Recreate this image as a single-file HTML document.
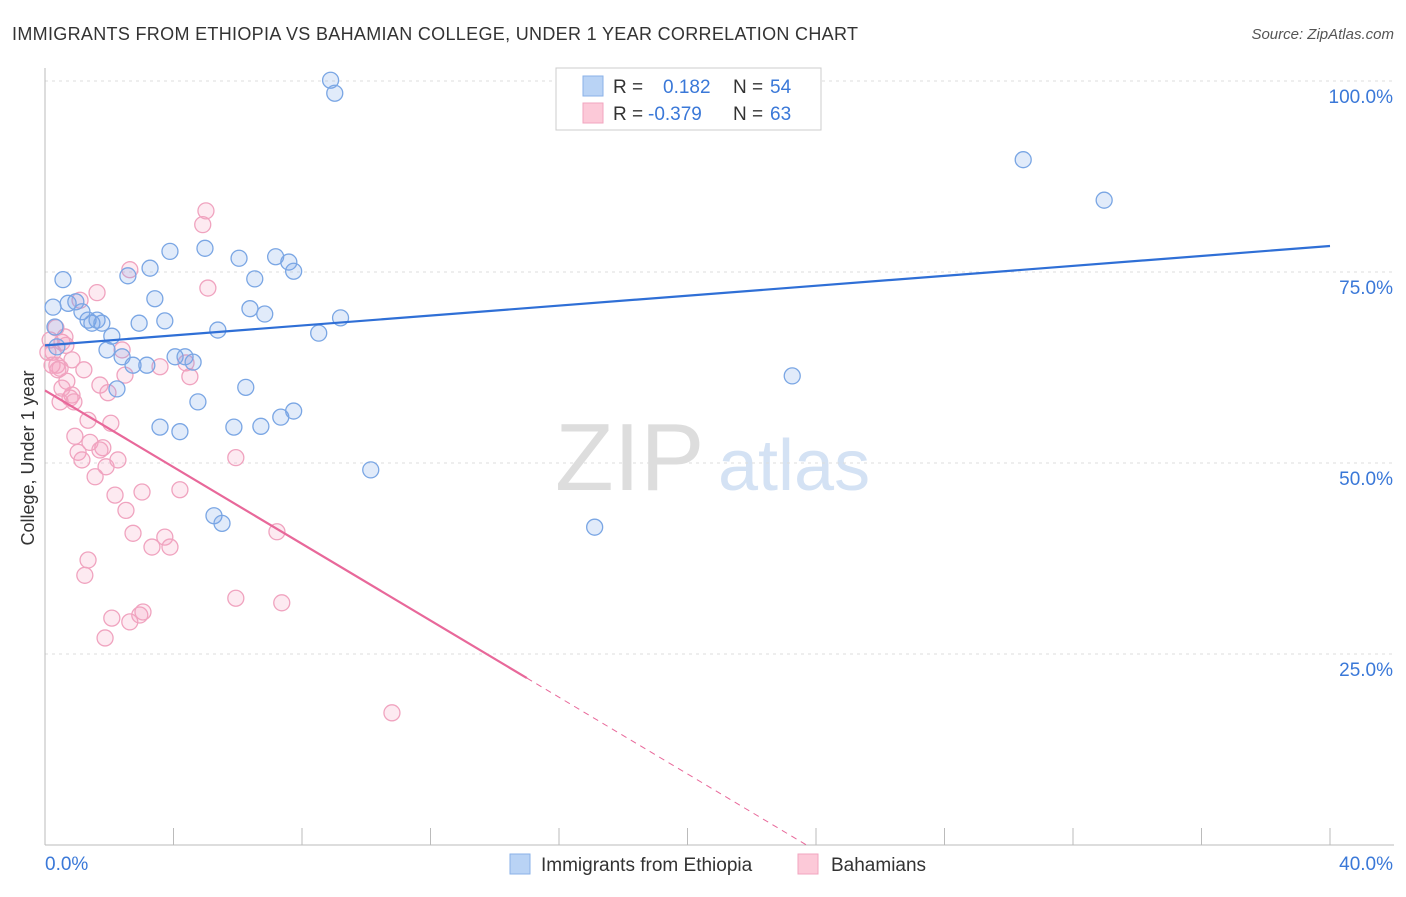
<!DOCTYPE html>
<html><head><meta charset="utf-8"><style>
body{margin:0;background:#fff;font-family:"Liberation Sans",sans-serif}
svg text{font-family:"Liberation Sans",sans-serif}
</style></head><body>
<svg id="c" width="1406" height="892">
<text x="12" y="40" font-size="18" fill="#333" textLength="846" lengthAdjust="spacing">IMMIGRANTS FROM ETHIOPIA VS BAHAMIAN COLLEGE, UNDER 1 YEAR CORRELATION CHART</text>
<text x="1394" y="39" font-size="15" fill="#555" font-style="italic" text-anchor="end">Source: ZipAtlas.com</text>
<text x="34" y="458" font-size="18" fill="#333" text-anchor="middle" transform="rotate(-90 34 458)">College, Under 1 year</text>
<text x="555" y="490" font-size="96" fill="#ddd" font-family="Liberation Serif">ZIP</text>
<text x="718" y="490" font-size="72" fill="#d4e2f4">atlas</text>
<g id="grid"></g><g id="pts"></g><g id="trend"></g>
<g>
<rect x="556" y="68" width="265" height="62" fill="#fff" stroke="#ccc"/>
<rect x="583" y="76" width="20" height="20" fill="#b9d3f5" stroke="#8ab2e8"/>
<rect x="583" y="103" width="20" height="20" fill="#fcc9d8" stroke="#f2a5bf"/>
<text x="613" y="93" font-size="19" fill="#333">R = </text><text x="663" y="93" font-size="19" fill="#3a78d8">0.182</text>
<text x="733" y="93" font-size="19" fill="#333">N = </text><text x="770" y="93" font-size="19" fill="#3a78d8">54</text>
<text x="613" y="120" font-size="19" fill="#333">R = </text><text x="648" y="120" font-size="19" fill="#3a78d8">-0.379</text>
<text x="733" y="120" font-size="19" fill="#333">N = </text><text x="770" y="120" font-size="19" fill="#3a78d8">63</text>
</g>
<g>
<rect x="510" y="854" width="20" height="20" fill="#b9d3f5" stroke="#8ab2e8"/>
<text x="541" y="871" font-size="19" fill="#333">Immigrants from Ethiopia</text>
<rect x="798" y="854" width="20" height="20" fill="#fcc9d8" stroke="#f2a5bf"/>
<text x="831" y="871" font-size="19" fill="#333">Bahamians</text>
</g>
</svg>
<script>
const blueX=[0.25,0.56,0.72,0.96,1.15,1.34,1.46,1.62,1.77,2.08,1.93,2.40,2.58,2.74,3.17,3.27,3.42,2.93,3.73,3.89,4.05,4.36,4.61,4.98,5.38,4.76,2.24,3.58,4.20,5.26,5.51,5.88,6.04,6.25,6.38,6.53,6.84,6.72,7.18,7.34,7.59,7.74,7.74,8.52,9.20,10.14,8.89,9.02,17.11,23.26,30.45,32.97,0.31,0.37];
const blueY=[70.4,74.0,70.9,71.1,69.8,68.7,68.3,68.7,68.3,66.6,64.8,63.9,74.5,62.8,62.8,75.5,71.5,68.3,68.6,77.7,63.9,63.9,63.2,78.1,67.4,58.0,59.7,54.7,54.1,43.1,42.1,54.7,76.8,59.9,70.2,74.1,69.5,54.8,77.0,56.0,76.3,75.1,56.8,67.0,69.0,49.1,100.1,98.4,41.6,61.4,89.7,84.4,67.8,65.2];
const pinkX=[0.16,0.25,0.37,0.47,0.53,0.62,0.68,0.78,0.84,0.90,0.47,1.09,1.21,1.34,0.93,1.03,1.15,1.40,1.56,1.62,1.71,1.80,1.90,1.96,2.05,2.18,2.27,2.40,2.49,2.52,2.64,2.74,2.95,3.02,3.33,3.58,3.73,3.89,4.20,4.39,4.51,4.91,5.01,5.07,5.94,5.94,7.22,7.37,10.80,1.34,1.24,1.87,2.08,2.64,0.34,0.09,0.22,0.65,0.84,0.40,0.53,1.71,3.05];
const pinkY=[66.1,64.5,62.8,62.4,65.8,66.5,60.7,58.5,58.9,58.0,58.0,71.3,62.2,55.6,53.5,51.4,50.4,52.7,48.2,72.3,60.2,52.0,49.5,59.2,55.2,45.8,50.4,64.8,61.5,43.8,75.3,40.8,30.1,46.2,39.0,62.6,40.3,39.0,46.5,63.1,61.3,81.2,83.0,72.9,50.7,32.3,41.0,31.7,17.3,37.3,35.3,27.1,29.7,29.2,67.7,64.5,62.8,65.4,63.5,62.2,59.8,51.7,30.5];
const blueTrend=[65.4,78.4];
const pinkTrend=[59.5,-2.51];
const pinkSolidEnd=15.0;
const yTicks=[25,50,75,100];
const yTickLabels=["25.0%","50.0%","75.0%","100.0%"];
const xTicks=[0,4,8,12,16,20,24,28,32,36,40];
const NS="http://www.w3.org/2000/svg";
const sx=v=>45+v/40*1285, sy=v=>845-v*7.64;
function mk(p,t,a){const e=document.createElementNS(NS,t);for(const k in a)e.setAttribute(k,a[k]);p.appendChild(e);return e;}
const grid=document.getElementById('grid');
yTicks.forEach((t,i)=>{
 const l=mk(grid,'line',{x1:45,x2:1394,y1:sy(t),y2:sy(t),stroke:'#ddd','stroke-dasharray':'3,4'});
 
 
 const tx=mk(grid,'text',{x:1393,y:sy(t)+22,'font-size':19,fill:'#3a78d8','text-anchor':'end'});
 tx.textContent=yTickLabels[i];
 
 
});
mk(grid,'line',{x1:45,x2:1394,y1:sy(0),y2:sy(0),stroke:'#bbb'});
mk(grid,'line',{x1:45,x2:45,y1:68,y2:845,stroke:'#bbb'});
xTicks.forEach(t=>{const l=mk(grid,'line',{x1:sx(t),x2:sx(t),y1:828,y2:845,stroke:'#bbb'});
 
 });
let a=mk(grid,'text',{x:45,y:870,'font-size':19,fill:'#3a78d8'});a.textContent='0.0%';


a=mk(grid,'text',{x:1393,y:870,'font-size':19,fill:'#3a78d8','text-anchor':'end'});a.textContent='40.0%';


const pts=document.getElementById('pts');
pinkX.forEach((x,i)=>{const c=mk(pts,'circle',{cx:sx(x),cy:sy(pinkY[i]),r:8,fill:'rgba(246,160,190,0.22)',stroke:'#f0a3bf','stroke-width':1.3});
 
 });
blueX.forEach((x,i)=>{const c=mk(pts,'circle',{cx:sx(x),cy:sy(blueY[i]),r:8,fill:'rgba(120,165,230,0.22)',stroke:'#7aa6e4','stroke-width':1.3});
 
 });
const tr=document.getElementById('trend');
let l=mk(tr,'line',{x1:sx(0),y1:sy(blueTrend[0]),x2:sx(40),y2:sy(blueTrend[1]),stroke:'#2f6fd6','stroke-width':2.2});


const pf=x=>pinkTrend[0]+pinkTrend[1]*x, z=-pinkTrend[0]/pinkTrend[1];
l=mk(tr,'line',{x1:sx(0),y1:sy(pf(0)),x2:sx(pinkSolidEnd),y2:sy(pf(pinkSolidEnd)),stroke:'#e8689a','stroke-width':2.2});


l=mk(tr,'line',{x1:sx(pinkSolidEnd),y1:sy(pf(pinkSolidEnd)),x2:sx(z),y2:sy(0),stroke:'#e8689a','stroke-width':1,'stroke-dasharray':'6,5'});


</script>
</body></html>
